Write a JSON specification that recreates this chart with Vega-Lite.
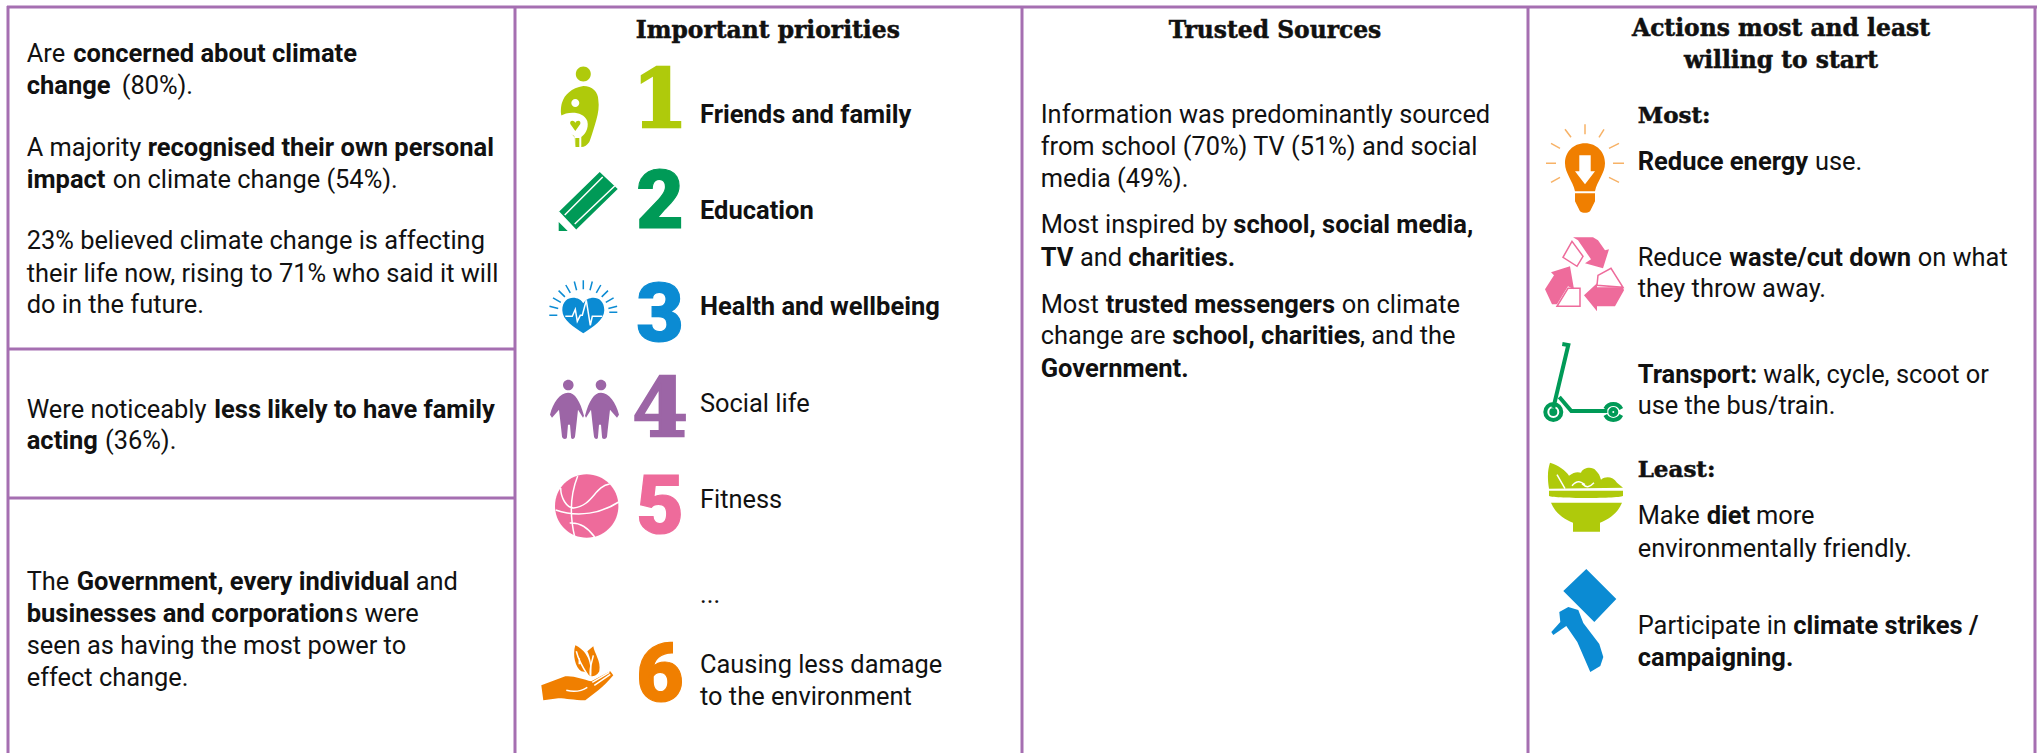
{
"$schema":"https://vega.github.io/schema/vega-lite/v6.json",
"width":2040,"height":753,"padding":0,"autosize":{"type":"none"},"background":"white",
"config":{"view":{"stroke":null}},
"datasets":{
"rules":[
{"across":7,"down":7,"across2":2037,"down2":7},
{"across":8,"down":6,"across2":8,"down2":753},
{"across":515,"down":6,"across2":515,"down2":753},
{"across":1022,"down":6,"across2":1022,"down2":753},
{"across":1528,"down":6,"across2":1528,"down2":753},
{"across":2035,"down":6,"across2":2035,"down2":753},
{"across":8,"down":349,"across2":515,"down2":349},
{"across":8,"down":498,"across2":515,"down2":498}
],
"fills":[
{"icon":"family-head","tone":"lime","across":583.3,"down":107},
{"icon":"family-body","tone":"lime","across":583.3,"down":107},
{"icon":"family-child","tone":"white","across":583.3,"down":107},
{"icon":"family-heart","tone":"lime","across":583.3,"down":107},
{"icon":"pencil","tone":"green","across":586.7,"down":200},
{"icon":"heart","tone":"blue","across":583.3,"down":313.3},
{"icon":"people","tone":"purple","across":584,"down":406.7},
{"icon":"ball","tone":"pink","across":586.7,"down":506},
{"icon":"hand","tone":"orange","across":578.3,"down":673.3},
{"icon":"bulb","tone":"orange","across":1585,"down":163.3},
{"icon":"arrow","tone":"white","across":1585,"down":163.3},
{"icon":"recycle","tone":"pink","across":1585,"down":273.3},
{"icon":"bowl","tone":"lime","across":1586,"down":496.7},
{"icon":"placard","tone":"blue","across":1583.3,"down":620}
],
"finelines":[
{"icon":"pencil-lines","tone":"white","across":586.7,"down":200},
{"icon":"heart-rays","tone":"blue","across":583.3,"down":313.3},
{"icon":"heart-pulse","tone":"white","across":583.3,"down":313.3},
{"icon":"ball-lines","tone":"white","across":586.7,"down":506},
{"icon":"hand-veins","tone":"white","across":578.3,"down":673.3},
{"icon":"bulb-rays","tone":"paleorange","across":1585,"down":163.3},
{"icon":"recycle-boxes","tone":"pink","across":1585,"down":273.3},
{"icon":"bowl-veins","tone":"white","across":1586,"down":496.7}
],
"heavylines":[
{"icon":"scooter","tone":"green","across":1583.3,"down":370}
],
"texts":[
{"kind":"regular","label":"Are","across":26.7,"down":62},
{"kind":"bold","label":"concerned about climate","across":73.3,"down":62},
{"kind":"bold","label":"change","across":26.7,"down":93.5},
{"kind":"regular","label":"(80%).","across":121.7,"down":93.5},
{"kind":"regular","label":"A majority","across":26.7,"down":155.7},
{"kind":"bold","label":"recognised their own personal","across":147.7,"down":155.7},
{"kind":"bold","label":"impact","across":26.7,"down":187.7},
{"kind":"regular","label":"on climate change (54%).","across":112.7,"down":187.7},
{"kind":"regular","label":"23% believed climate change is affecting","across":26.7,"down":249.3},
{"kind":"regular","label":"their life now, rising to 71% who said it will","across":26.7,"down":281.7},
{"kind":"regular","label":"do in the future.","across":26.7,"down":313.3},
{"kind":"regular","label":"Were noticeably","across":26.7,"down":417.7},
{"kind":"bold","label":"less likely to have family","across":214.3,"down":417.7},
{"kind":"bold","label":"acting","across":26.7,"down":449.3},
{"kind":"regular","label":"(36%).","across":105,"down":449.3},
{"kind":"regular","label":"The","across":26.7,"down":590},
{"kind":"bold","label":"Government, every individual","across":76.7,"down":590},
{"kind":"regular","label":"and","across":415.7,"down":590},
{"kind":"bold","label":"businesses and corporation","across":26.7,"down":622.3},
{"kind":"regular","label":"s were","across":345,"down":622.3},
{"kind":"regular","label":"seen as having the most power to","across":26.7,"down":654.3},
{"kind":"regular","label":"effect change.","across":26.7,"down":686},
{"kind":"bold","label":"Friends and family","across":700,"down":122.7},
{"kind":"bold","label":"Education","across":700,"down":218.7},
{"kind":"bold","label":"Health and wellbeing","across":700,"down":314.7},
{"kind":"regular","label":"Social life","across":700,"down":411.7},
{"kind":"regular","label":"Fitness","across":700,"down":507.7},
{"kind":"regular","label":"...","across":700,"down":603},
{"kind":"regular","label":"Causing less damage","across":700,"down":673.3},
{"kind":"regular","label":"to the environment","across":700,"down":705},
{"kind":"regular","label":"Information was predominantly sourced","across":1040.7,"down":122.7},
{"kind":"regular","label":"from school (70%) TV (51%) and social","across":1040.7,"down":155},
{"kind":"regular","label":"media (49%).","across":1040.7,"down":186.7},
{"kind":"regular","label":"Most inspired by","across":1040.7,"down":233.3},
{"kind":"bold","label":"school, social media,","across":1233.3,"down":233.3},
{"kind":"bold","label":"TV","across":1040.7,"down":265.7},
{"kind":"regular","label":"and","across":1080,"down":265.7},
{"kind":"bold","label":"charities.","across":1128.3,"down":265.7},
{"kind":"regular","label":"Most","across":1040.7,"down":312.7},
{"kind":"bold","label":"trusted messengers","across":1105.7,"down":312.7},
{"kind":"regular","label":"on climate","across":1341.7,"down":312.7},
{"kind":"regular","label":"change are","across":1040.7,"down":344.3},
{"kind":"bold","label":"school, charities","across":1172.3,"down":344.3},
{"kind":"regular","label":", and the","across":1360,"down":344.3},
{"kind":"bold","label":"Government.","across":1040.7,"down":376.7},
{"kind":"bold","label":"Reduce energy","across":1637.7,"down":170},
{"kind":"regular","label":"use.","across":1815,"down":170},
{"kind":"regular","label":"Reduce","across":1637.7,"down":265.7},
{"kind":"bold","label":"waste/cut down","across":1729.3,"down":265.7},
{"kind":"regular","label":"on what","across":1917.7,"down":265.7},
{"kind":"regular","label":"they throw away.","across":1637.7,"down":297.3},
{"kind":"bold","label":"Transport:","across":1637.7,"down":382.7},
{"kind":"regular","label":"walk, cycle, scoot or","across":1763.3,"down":382.7},
{"kind":"regular","label":"use the bus/train.","across":1637.7,"down":414.3},
{"kind":"regular","label":"Make","across":1637.7,"down":524.3},
{"kind":"bold","label":"diet","across":1706.7,"down":524.3},
{"kind":"regular","label":"more","across":1756,"down":524.3},
{"kind":"regular","label":"environmentally friendly.","across":1637.7,"down":556.7},
{"kind":"regular","label":"Participate in","across":1637.7,"down":634},
{"kind":"bold","label":"climate strikes /","across":1793.3,"down":634},
{"kind":"bold","label":"campaigning.","across":1637.7,"down":665.7},
{"kind":"heading","label":"Important priorities","across":767.8,"down":37.7},
{"kind":"heading","label":"Trusted Sources","across":1275,"down":37.7},
{"kind":"heading","label":"Actions most and least","across":1781,"down":35.7},
{"kind":"heading","label":"willing to start","across":1781,"down":68.3},
{"kind":"subheading","label":"Most:","across":1637.7,"down":122.7},
{"kind":"subheading","label":"Least:","across":1637.7,"down":476.7},
{"kind":"slabnumber","label":"1","tone":"lime","across":660,"down":127},
{"kind":"number","label":"2","tone":"green","across":660,"down":228},
{"kind":"number","label":"3","tone":"blue","across":660,"down":341},
{"kind":"slabnumber","label":"4","tone":"purple","across":660,"down":436},
{"kind":"number","label":"5","tone":"pink","across":660,"down":533},
{"kind":"number","label":"6","tone":"orange","across":660,"down":701}
]
},
"encoding":{
"x":{"field":"across","type":"quantitative","axis":null,"scale":{"domain":[0,2040],"range":[0,2040],"nice":false,"zero":false}},
"y":{"field":"down","type":"quantitative","axis":null,"scale":{"domain":[0,753],"range":[0,753],"nice":false,"zero":false}}
},
"layer":[
{"data":{"name":"fills"},
 "mark":{"type":"point","filled":true,"opacity":1,"size":4,"strokeWidth":0},
 "encoding":{
  "color":{"field":"tone","type":"nominal","legend":null,"scale":{"domain":["lime","green","blue","purple","pink","orange","white","paleorange"],"range":["#afca0b","#009a57","#0b8bd3","#9c65a6","#ee6b9b","#f07f00","#ffffff","#f7b267"]}},
  "shape":{"field":"icon","type":"nominal","legend":null,"scale":{
   "domain":["family-head","family-body","family-child","family-heart","pencil","heart","people","ball","hand","bulb","arrow","recycle","bowl","placard","pencil-lines","heart-rays","heart-pulse","ball-lines","hand-veins","bulb-rays","recycle-boxes","bowl-veins","scooter"],
   "range":[
   "M-7.5,-33 A7.5,7.5 0 1 1 7.5,-33 A7.5,7.5 0 1 1 -7.5,-33 Z",
   "M0,-21 C9,-21 15,-15 15,-7 C16,-1 15,6 13,13 C11,20 8,30 6,35 C4,38 1,40 -2,40 L-8,40 L-9,30 C-14,24 -20,16 -22,8 C-23,4 -22,-3 -21,-5 C-19,-12 -12,-19 0,-21 Z",
   "M-12,-4 A4,4 0 1 1 -4,-4 A4,4 0 1 1 -12,-4 Z M-23,9 C-15,4 0,4 4,14 C6,22 1,28 -2,30 L-2,40 L-4,40 L-4,31 L-8,31 L-8,40 L-9,40 L-9,29 C-15,26 -19,18 -23,9 Z",
   "M-8,24 L-13,17 C-14,13 -9,13 -8,16 C-7,13 -2,13 -3,17 Z",
   "M-28,12 L13,-28 L31,-11 L-11,30 Z M-28,22 L-28,31 L-19,31 Z",
   "M0,-10 C-4,-18 -21,-19 -21,-3 C-21,7 -9,14 0,20 C9,14 21,7 21,-3 C21,-19 4,-18 0,-10 Z",
   "M-21,-21.7 A5.3,5.3 0 1 1 -10.4,-21.7 A5.3,5.3 0 1 1 -21,-21.7 Z M11.7,-21.7 A5.3,5.3 0 1 1 22.3,-21.7 A5.3,5.3 0 1 1 11.7,-21.7 Z M-16,-14 C-9,-14 -4,-6 0,9 L-1,11 L-6,3 C-7,12 -8,22 -9,30 C-10,33 -13,33 -13,30 L-14,18 L-16,18 L-17,30 C-17,33 -21,33 -22,30 C-23,20 -24,12 -25,3 L-32,11 L-34,8 C-31,-4 -24,-14 -16,-14 Z M17,-14 C10,-14 5,-6 1,9 L2,11 L7,3 C8,12 9,22 10,30 C11,33 14,33 14,30 L15,18 L17,18 L18,30 C18,33 22,33 23,30 C24,20 25,12 26,3 L33,11 L35,8 C32,-4 25,-14 17,-14 Z",
   "M-31.7,0 A31.7,31.7 0 1 1 31.7,0 A31.7,31.7 0 1 1 -31.7,0 Z",
   "M-37,12 L-13,3 C-5,2 5,6 13,8 L32,-2 L35,2 C30,8 25,13 20,17 L7,27 C-5,27 -12,25 -20,25 L-35,27 Z M-3,-28 C6,-24 14,-14 12,3 C10,1 7,-2 3,-2 C-3,-6 -6,-18 -3,-28 Z M15,-27 C16,-20 23,-12 21,-2 C19,2 16,3 13,3 C14,-8 12,-16 9,-22 Z",
   "M0,-20 C12,-20 20,-11 20,0 C20,10 12,18 10,28 L-10,28 C-12,18 -20,10 -20,0 C-20,-11 -12,-20 0,-20 Z M-10,30 L10,30 L10,38 L5,48 C2,50 -2,50 -5,48 L-10,38 Z",
   "M-5.7,-8 L5.7,-8 L5.7,8 L10,8 L0,21 L-10,8 L-5.7,8 Z",
   "M-12,-36 L8,-36 L13,-33 L20,-23 L24,-24 L18,-5 L0,-10 L6,-14 L-7,-33 Z M-15,-7 L-34,-1 L-31,2 L-40,16 L-33,31 L-28,31 L-17,13 L-11,16 Z M-1,22 L12,10 L12,14 L38,14 L39,17 L30,33 L12,33 L12,38 Z",
   "M-37,-6 L37,-6 L37,-1 C37,2 -37,2 -37,-1 Z M-35,6 L36,6 C32,16 24,22 14,26 L14,35 L-13,35 L-13,26 C-23,22 -31,16 -35,6 Z M-37,-8 C-39,-20 -38,-28 -36,-34 C-28,-32 -20,-26 -17,-21 C-12,-25 -8,-25 -5,-24 C-3,-29 6,-31 10,-26 C14,-22 14,-20 15,-17 C20,-21 27,-20 31,-14 L37,-9 Z",
   "M3,-51 L33,-21 L11,2 L-20,-29 Z M-15,-13 L-5,-10 L0,3 L16,24 L20,37 L17,46 L7,52 L-6,22 L-17,6 L-30,15 L-32,12 L-23,2 L-24,-8 Z",
   "M-22,15 L16,-23 M-12,24 L28,-14 M-28,12 L-11,30",
   "M0,-24 L0,-33 M6.7,-23.1 L9,-31.8 M-6.7,-23.1 L-9,-31.8 M13,-20.5 L17.5,-28.3 M-13,-20.5 L-17.5,-28.3 M18.4,-16.4 L24.7,-22.7 M-18.4,-16.4 L-24.7,-22.7 M22.5,-11 L30.3,-15.5 M-22.5,-11 L-30.3,-15.5 M25.1,-4.7 L33.8,-7 M-25.1,-4.7 L-33.8,-7 M26,-1 L34,-1 M-26,2 L-34,2",
   "M-18,3 L-11,3 L-8,-4 L-6,8 L-3,2 L-1,2 L3,-13 L7,12 L9,3 L19,3",
   "M-9,-30 C-17,-10 -17,10 -12,31 M23,-22 C8,-20 6,0 -13,2 C-20,2 -26,-8 -26,-18 M-31,4 C-8,12 15,7 32,-4 M-17,17 C-5,16 3,24 8,31",
   "M-2,-22 C0,-14 3,-8 9,1 M1,-15 L1,-9 M15,-18 C14,-12 11,-6 12,2 M-12,17 C-4,19 3,18 9,14 M14,9 L31,-1 M16,12 L32,1",
   "M0,-39 L0,-29 M-20,-34 L-14,-26 M19,-34 L14,-26 M-34,-20 L-25,-15 M34,-20 L24,-15 M-39,0 L-29,0 M28,0 L39,0 M-34,19 L-25,14 M34,19 L24,14",
   "M-13,-32 L-22,-16 L-8,-7 L-2,-17 Z M-17,15 L-5,15 L-5,33 L-28,33 Z M13,2 L26,-5 L38,14 L12,12 Z",
   "M-29,-22 L-21,-8 M-14,-11 C-8,-18 -4,-14 -1,-12 M-4,-13 C1,-8 4,-10 8,-14",
   "M-21,-26 L-15,-25 L-30,38 M-24,27 L-12,41 L24,41 M-38,42 A8,8 0 1 1 -22,42 A8,8 0 1 1 -38,42 M-32,42 A2,2 0 1 1 -28,42 A2,2 0 1 1 -32,42 M22,39 A9,9 0 0 1 38,39 M22,45 A9,9 0 0 0 38,45 M27,42 A3,3 0 1 1 33,42 A3,3 0 1 1 27,42"
   ]}}
 }},
{"data":{"name":"finelines"},
 "mark":{"type":"point","filled":false,"opacity":1,"size":4,"strokeWidth":1.5},
 "encoding":{
  "color":{"field":"tone","type":"nominal","legend":null},
  "shape":{"field":"icon","type":"nominal","legend":null}
 }},
{"data":{"name":"heavylines"},
 "mark":{"type":"point","filled":false,"opacity":1,"size":4,"strokeWidth":4},
 "encoding":{
  "color":{"field":"tone","type":"nominal","legend":null},
  "shape":{"field":"icon","type":"nominal","legend":null}
 }},
{"data":{"name":"rules"},
 "mark":{"type":"rule","color":"#a56fb1","strokeWidth":3},
 "encoding":{"x2":{"field":"across2"},"y2":{"field":"down2"}}},
{"data":{"name":"texts"},"transform":[{"filter":"datum.kind==='regular'"}],
 "mark":{"type":"text","font":"Roboto","fontSize":25.4,"fontWeight":400,"align":"left","baseline":"alphabetic","color":"#111111"},
 "encoding":{"text":{"field":"label"}}},
{"data":{"name":"texts"},"transform":[{"filter":"datum.kind==='bold'"}],
 "mark":{"type":"text","font":"Roboto","fontSize":25.5,"fontWeight":700,"align":"left","baseline":"alphabetic","color":"#111111"},
 "encoding":{"text":{"field":"label"}}},
{"data":{"name":"texts"},"transform":[{"filter":"datum.kind==='heading'"}],
 "mark":{"type":"text","font":"DejaVu Serif","fontSize":23.4,"fontWeight":700,"align":"center","baseline":"alphabetic","color":"#111111","stroke":"#111111","strokeWidth":0.5},
 "encoding":{"text":{"field":"label"}}},
{"data":{"name":"texts"},"transform":[{"filter":"datum.kind==='subheading'"}],
 "mark":{"type":"text","font":"DejaVu Serif","fontSize":23,"fontWeight":700,"align":"left","baseline":"alphabetic","color":"#111111","stroke":"#111111","strokeWidth":0.5},
 "encoding":{"text":{"field":"label"}}},
{"data":{"name":"texts"},"transform":[{"filter":"datum.kind==='number'"}],
 "mark":{"type":"text","font":"Roboto","fontSize":82,"fontWeight":900,"align":"center","baseline":"alphabetic","strokeWidth":1.2},
 "encoding":{"text":{"field":"label"},"color":{"field":"tone","type":"nominal","legend":null},"stroke":{"field":"tone","type":"nominal","legend":null,"scale":{"domain":["lime","green","blue","purple","pink","orange","white","paleorange"],"range":["#afca0b","#009a57","#0b8bd3","#9c65a6","#ee6b9b","#f07f00","#ffffff","#f7b267"]}}}},
{"data":{"name":"texts"},"transform":[{"filter":"datum.kind==='slabnumber'"}],
 "mark":{"type":"text","font":"DejaVu Serif","fontSize":80,"fontWeight":700,"align":"center","baseline":"alphabetic","strokeWidth":2.5},
 "encoding":{"text":{"field":"label"},"color":{"field":"tone","type":"nominal","legend":null},"stroke":{"field":"tone","type":"nominal","legend":null}}}
]
}
